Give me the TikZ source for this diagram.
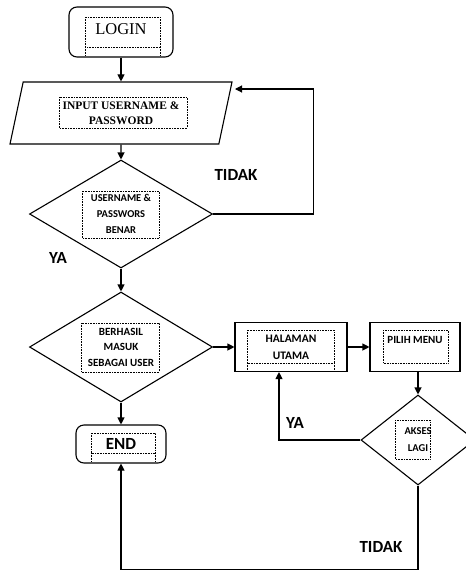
\documentclass[tikz,border=0pt]{standalone}
\usepackage{fontspec}
\setmainfont{Carlito}
\newfontfamily\tnr{Liberation Serif}
\usetikzlibrary{shapes.geometric,arrows.meta}

\begin{document}
\begin{tikzpicture}[x=1pt,y=-1pt,line width=1.1pt]
  \tikzstyle{terminal}=[draw,rounded corners=8pt,inner sep=0pt]
  \tikzstyle{process}=[draw,inner sep=0pt,align=center]
  \tikzstyle{decision}=[draw,diamond,inner sep=0pt,align=center]
  \tikzstyle{io}=[draw,trapezium,trapezium left angle=60,trapezium right angle=120,trapezium stretches body,inner sep=0pt,align=center]
  \tikzstyle{textbox}=[draw,densely dotted,line width=0.6pt]
  \tikzstyle{line}=[draw,-{Triangle[length=7pt,width=7pt]}]
  \tikzstyle{answer}=[font=\bfseries\fontsize{17}{20}\selectfont]
  \useasboundingbox (0,0) rectangle (466,571);
  % main column
  \node[terminal,minimum width=104pt,minimum height=50pt,font=\tnr\fontsize{16.5}{18}\selectfont,text height=12pt,text depth=7pt] (login) at (121,32) {LOGIN};
  \node[io,minimum width=222pt,minimum height=62pt,font=\tnr\bfseries\fontsize{11.5}{15}\selectfont] (input) at (121,113) {INPUT USERNAME \&\\PASSWORD};
  \node[decision,aspect=1.7,minimum width=183pt,minimum height=108pt,font=\bfseries\fontsize{10.5}{16}\selectfont] (cek) at (121,214) {USERNAME \&\\PASSWORS\\BENAR};
  \node[decision,aspect=1.66,minimum width=183pt,minimum height=110pt,font=\bfseries\fontsize{11}{15.5}\selectfont] (masuk) at (121,347) {BERHASIL\\MASUK\\SEBAGAI USER};
  \node[terminal,minimum width=90pt,minimum height=38pt,font=\bfseries\fontsize{17}{20}\selectfont] (end) at (121,444) {END};
  % right part
  \node[process,minimum width=112pt,minimum height=49pt,font=\bfseries\fontsize{11.5}{17}\selectfont] (utama) at (291,347) {HALAMAN\\UTAMA};
  \node[process,minimum width=90pt,minimum height=49pt,font=\bfseries\fontsize{11}{15}\selectfont,text height=9pt,text depth=17pt] (menu) at (415,347) {PILIH MENU};
  \node[decision,aspect=1.27,minimum width=114pt,minimum height=90pt,font=\bfseries\fontsize{10.5}{17}\selectfont] (akses) at (418,440) {AKSES\\LAGI};
  \coordinate (inputin) at (235,89);
  % dotted text boxes
  \draw[textbox] (85,17) rectangle (160,47) (85,47) -- (85,56) (160,47) -- (160,56);
  \draw[textbox] (59,97) rectangle (187,128);
  \draw[textbox] (82,191) rectangle (159,238);
  \draw[textbox] (81,323) rectangle (159,372);
  \draw[textbox] (91,433) rectangle (155,453) (91,453) -- (91,462) (155,453) -- (155,462);
  \draw[textbox] (247,330) rectangle (334,363) (247,363) -- (247,371) (334,363) -- (334,371);
  \draw[textbox] (383,330) rectangle (448,363);
  \draw[textbox] (395,420) rectangle (430,459);
  % labels
  \node[answer] (tidakatas) at (236,175) {TIDAK};
  \node[answer] (yaatas) at (58,258) {YA};
  \node[answer] (yabawah) at (295,423) {YA};
  \node[answer] (tidakbawah) at (381,547) {TIDAK};
  % arrows
  \draw[line] (login) -- (input);
  \draw[line] (input) -- (cek);
  \draw[line] (cek) -- (masuk);
  \draw[line] (masuk) -- (end);
  \draw[line] (masuk) -- (utama);
  \draw[line] (utama) -- (menu);
  \draw[line] (menu.south -| akses.north) -- (akses.north);
  \draw[line] (cek.east) -- ++(100,0) |- (inputin);
  \draw[line] (akses.west) -| ([xshift=-12pt]utama.south);
  \draw[line] (akses.south) -- ++(0,84) -| (end.south);
\end{tikzpicture}
\end{document}
